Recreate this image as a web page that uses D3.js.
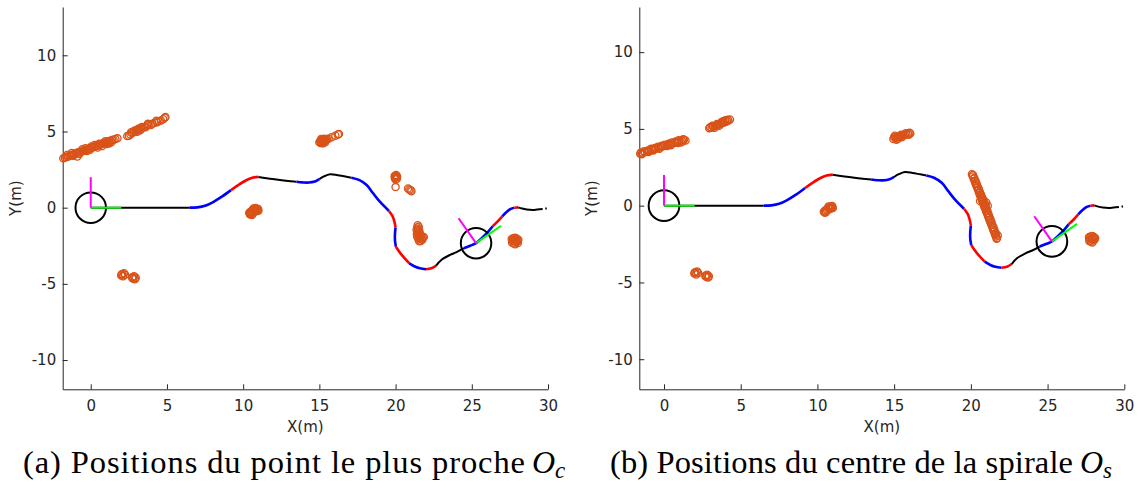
<!DOCTYPE html>
<html><head><meta charset="utf-8">
<script src="https://cdn.jsdelivr.net/npm/d3@7"></script>
<style>
body{margin:0;background:#fff;}
svg{display:block;}
</style></head>
<body>
<svg id="chart" width="1145" height="489"></svg>
<script>
// ---------------- DATA ----------------
const xTicks = [0, 5, 10, 15, 20, 25, 30];
const yTicks = [-10, -5, 0, 5, 10];
const xLabel = "X(m)";
const yLabel = "Y(m)";
const captionA = {lead: "(a) Positions du point le plus proche", sym: "O", sub: "c"};
const captionB = {lead: "(b) Positions du centre de la spirale", sym: "O", sub: "s"};

// path of the vehicle (shared by both panels)
const trajX = [0,2,4,6.5, 7.0,7.5,8.0,8.6,9.2, 9.7,10.2,10.6,11.0, 12.3,13.5, 13.9,14.3,14.7,15.0,
  15.3,15.7,16.2,16.7,17.1, 17.6,18.1,18.5,18.97,19.55, 19.8,19.93,20.0, 19.96,19.96,20.02,
  20.4,20.9, 21.3,21.6,22.0, 22.35,22.66, 23.0,23.57,24.0,24.48, 24.9,25.28,25.7,26.08,26.37,
  26.7,27.0, 27.3,27.55,27.8, 28.05, 28.3,28.6,29.0,29.3,29.65, 29.82,29.92];
const trajY = [0,0,0,0, 0.02,0.12,0.35,0.72,1.15, 1.5,1.8,1.96,2.02, 1.84,1.7, 1.66,1.65,1.72,1.87,
  2.05,2.19,2.13,2.04,1.97, 1.82,1.49,0.98,0.39,-0.2, -0.55,-0.95,-1.3, -1.7,-2.15,-2.56,
  -3.1,-3.65, -3.88,-3.98,-4.04, -3.98,-3.8, -3.43,-3.1,-2.92,-2.66, -2.5,-2.33,-1.95,-1.57,-1.22,
  -0.9,-0.57, -0.27,-0.08,0.0, 0.02, -0.06,-0.12,-0.15,-0.12,-0.09, -0.06,-0.05];
// path pieces: first and last index into trajX/trajY, and kind of piece
const segStart = [0,3,8,12,14,18,23,28,31,34,36,39,41,45,50,52,55,56,62];
const segEnd   = [3,8,12,14,18,23,28,31,34,36,39,41,45,50,52,55,56,61,63];
const segKind  = ["k","b","r","k","b","k","b","r","b","r","b","r","k","b","r","b","r","k","k"];

// vehicle frames (position and heading in degrees), frame axis length, circle radius
const frameX = [0, 25.28];
const frameY = [0, -2.33];
const frameHeading = [0, 35];
const frameAxisLen = 2;
const frameRadius = 1;

// (a) closest points O_c
const closestPts = [
 [-1.8,3.24],[-1.7,3.28],[-1.6,3.33],[-1.5,3.34],[-1.4,3.41],[-1.3,3.42],[-1.2,3.48],[-1.1,3.5],
 [-1.0,3.56],[-0.88,3.36],[-0.9,3.6],[-0.8,3.63],[-0.7,3.64],[-0.6,3.7],[-0.5,3.72],[-0.4,3.78],
 [-0.3,3.79],[-0.2,3.85],[-0.1,3.86],[0.0,3.92],[0.1,3.94],[0.2,4.0],[0.3,4.01],[0.4,4.07],
 [0.5,4.08],[0.6,4.15],[0.7,4.16],[0.8,4.22],[0.9,4.23],[1.0,4.3],[1.1,4.31],[1.2,4.37],
 [1.3,4.38],[1.4,4.44],[1.5,4.45],[1.62,4.5],[1.75,4.55],[-1.25,3.58],[-0.55,3.84],[0.25,4.12],
 [0.95,4.36],[-0.05,3.8],[0.75,4.05],[-1.55,3.45],[1.2,4.22],[0.45,3.95],[-0.25,3.72],
 [-1.15,3.4],[-0.75,3.52],[-0.35,3.9],[0.05,4.02],[0.55,4.2],[1.05,4.18],[1.35,4.3],
 [2.4,4.7],[2.5,4.72],[2.6,4.8],[2.7,4.9],[2.8,4.95],[2.85,5.05],[2.95,5.0],[3.0,5.1],[3.1,5.12],
 [3.2,5.15],[3.3,5.2],[3.4,5.25],[3.5,5.3],[3.6,5.28],[3.7,5.4],[3.8,5.45],[3.95,5.42],[4.05,5.5],
 [4.2,5.58],[4.35,5.6],[4.45,5.68],[4.6,5.72],[4.75,5.8],[4.85,5.9],[4.9,5.95],[3.75,5.5],[4.3,5.7],
 [2.65,4.95],[3.05,4.98],[3.35,5.3],[3.15,5.2],[3.25,5.08],
 [10.4,-0.35],[10.45,-0.45],[10.5,-0.3],[10.55,-0.22],[10.6,-0.32],[10.65,-0.12],[10.7,-0.18],
 [10.75,-0.06],[10.8,-0.12],[10.85,-0.18],[10.9,-0.1],[10.95,-0.15],[11.0,-0.2],[10.5,-0.42],
 [10.62,-0.4],[10.72,-0.26],[10.45,-0.28],[10.58,-0.48],[10.68,-0.06],[10.82,-0.02],[10.98,-0.08],
 [10.88,-0.24],[10.55,-0.36],[10.78,-0.16],
 [15.0,4.3],[15.05,4.38],[15.1,4.32],[15.15,4.45],[15.2,4.3],[15.25,4.4],[15.3,4.35],[15.35,4.45],
 [15.4,4.4],[15.45,4.48],[15.5,4.5],[15.6,4.52],[15.8,4.62],[16.05,4.72],[16.28,4.84],[16.22,4.8],
 [15.08,4.25],[15.22,4.22],[15.38,4.3],[15.12,4.5],[15.3,4.52],
 [20.0,2.1],[20.05,2.02],[19.95,1.95],[20.08,1.9],[20.0,1.85],[20.04,2.15],[19.98,2.0],[20.0,1.35],
 [20.82,1.26],[20.9,1.2],[20.98,1.14],[21.04,1.08],[20.1,2.05],[19.94,2.08],
 [21.45,-1.15],[21.42,-1.3],[21.48,-1.42],[21.45,-1.55],[21.5,-1.68],[21.55,-1.8],[21.68,-1.85],
 [21.78,-1.95],[21.62,-2.0],[21.5,-2.08],[21.65,-2.18],[21.75,-2.1],[21.85,-1.92],[21.42,-1.9],[21.52,-1.25],
 [21.38,-1.45],[21.55,-1.5],[21.4,-1.75],[21.6,-1.7],[21.7,-2.0],[21.55,-2.2],[21.48,-1.95],
 [27.62,-2.05],[27.72,-2.0],[27.85,-1.98],[27.95,-2.04],[28.05,-2.1],[27.7,-2.2],[27.82,-2.15],
 [27.92,-2.25],[27.75,-2.35],[27.65,-2.3],[28.0,-2.2],[27.85,-2.4],[27.68,-2.12],[27.95,-2.15],
 [28.02,-2.32],[27.78,-2.08],
 [2.0,-4.45],[2.08,-4.35],[2.18,-4.3],[2.25,-4.4],[2.12,-4.5],[2.02,-4.38],
 [2.75,-4.55],[2.85,-4.5],[2.95,-4.6],[2.9,-4.7],[2.8,-4.66],[2.72,-4.62]
];

// (b) spiral centres O_s
const centerPts = [
 [-1.55,3.38],[-1.4,3.43],[-1.25,3.48],[-1.1,3.53],[-0.95,3.58],[-0.8,3.63],[-0.65,3.68],[-0.5,3.72],
 [-0.35,3.77],[-0.2,3.82],[-0.05,3.87],[0.1,3.91],[0.25,3.96],[0.4,4.0],[0.55,4.05],[0.7,4.1],
 [0.85,4.15],[1.0,4.2],[1.15,4.24],[1.3,4.3],
 [-1.5,3.46],[-1.3,3.54],[-1.05,3.6],[-0.85,3.7],[-0.6,3.76],[-0.4,3.84],[-0.15,3.9],[0.05,3.97],
 [0.3,4.04],[0.5,4.12],[0.75,4.18],[0.95,4.26],[1.2,4.18],[-0.7,3.6],[0.2,3.88],[0.9,4.08],
 [-1.45,3.35],[-1.0,3.5],[-0.3,3.7],[0.45,3.94],[1.1,4.12],[1.25,4.32],[1.4,4.25],
 [3.0,5.1],[3.1,5.08],[3.2,5.15],[3.3,5.18],[3.4,5.22],[3.5,5.25],[3.6,5.3],[3.7,5.35],[3.8,5.38],
 [3.9,5.42],[4.0,5.45],[4.1,5.5],[4.2,5.55],[4.3,5.62],[3.15,5.2],[3.45,5.32],[3.85,5.5],[4.15,5.6],[2.95,5.05],
 [3.3,5.08],[3.6,5.2],[4.0,5.56],[3.75,5.45],
 [10.42,-0.4],[10.5,-0.32],[10.55,-0.42],[10.6,-0.25],[10.7,-0.18],[10.78,-0.08],[10.85,-0.12],
 [10.9,-0.05],[10.95,-0.12],[11.0,-0.15],[10.65,-0.32],[10.8,-0.2],[10.48,-0.46],[10.88,-0.18],
 [10.72,-0.05],[10.96,-0.02],
 [14.95,4.35],[15.0,4.45],[15.1,4.4],[15.2,4.45],[15.3,4.5],[15.4,4.5],[15.5,4.55],[15.6,4.6],
 [15.7,4.6],[15.8,4.65],[15.9,4.7],[16.0,4.75],[16.05,4.7],[15.05,4.55],[15.25,4.36],[15.5,4.45],
 [15.15,4.3],[15.45,4.62],[15.75,4.72],[15.95,4.62],
 [20.07,2.05],[20.13,1.9],[20.19,1.75],[20.25,1.6],[20.3,1.45],[20.36,1.3],[20.42,1.15],[20.48,1.0],
 [20.53,0.85],[20.59,0.7],[20.65,0.55],[20.71,0.4],[20.76,0.25],[20.82,0.1],[20.88,-0.05],[20.94,-0.2],
 [20.99,-0.35],[21.05,-0.5],[21.11,-0.65],[21.17,-0.8],[21.22,-0.95],[21.28,-1.1],[21.34,-1.25],
 [21.4,-1.4],[21.45,-1.55],[21.51,-1.7],[21.57,-1.85],[21.63,-2.0],[21.68,-2.15],
 [20.14,2.0],[20.22,1.8],[20.3,1.62],[20.38,1.42],[20.44,1.25],[20.52,1.08],[20.58,0.9],[20.66,0.72],
 [20.72,0.56],[20.8,0.38],[20.86,0.2],[20.94,0.02],[21.0,-0.16],[21.08,-0.34],[21.14,-0.52],
 [21.2,-0.7],[21.28,-0.88],[21.34,-1.06],[21.4,-1.24],[21.48,-1.42],[21.54,-1.6],[21.62,-1.78],
 [20.6,0.3],[20.75,0.5],[21.0,0.2],[21.1,0.0],[20.9,-0.1],[20.8,0.35],[21.6,-1.9],[21.75,-1.95],[21.7,-2.1],
 [27.7,-2.05],[27.8,-2.0],[27.92,-1.98],[28.02,-2.04],[28.1,-2.1],[27.78,-2.2],[27.9,-2.15],
 [28.0,-2.25],[27.82,-2.35],[27.72,-2.3],[28.06,-2.2],[27.92,-2.4],[27.75,-2.12],[28.0,-2.12],
 [1.98,-4.42],[2.06,-4.33],[2.16,-4.28],[2.22,-4.38],[2.1,-4.48],[2.0,-4.36],
 [2.72,-4.54],[2.82,-4.5],[2.92,-4.6],[2.88,-4.68],[2.78,-4.64],[2.7,-4.6]
];

// ---------------- LAYOUT & STYLE ----------------
const panels = [
  {pts: closestPts, cap: captionA, xDom: [-1.84, 30], yDom: [-11.92, 13.17],
   xR: [62.7, 548], yR: [389.3, 7], capX: 23, capLen: 502, symX: 532, yLabX: 21},
  {pts: centerPts, cap: captionB, xDom: [-1.61, 30], yDom: [-11.96, 12.94],
   xR: [639.3, 1124.3], yR: [389.3, 7], capX: 610, capLen: 463, symX: 1080, yLabX: 597}
];
const kindColor = {k: "#000000", b: "#0000ff", r: "#ff0000"};
const kindWidth = {k: 2, b: 2.6, r: 2.6};
const markerColor = "#D95319";
const axisColor = "#262626";
const tickFont = "'DejaVu Sans', sans-serif";
const capFont = "'Liberation Serif', 'Times New Roman', serif";

const svg = d3.select("#chart");
svg.append("rect").attr("width", 1145).attr("height", 489).attr("fill", "#fff");

panels.forEach(p => {
  const x = d3.scaleLinear().domain(p.xDom).range(p.xR);
  const y = d3.scaleLinear().domain(p.yDom).range(p.yR);
  const g = svg.append("g");

  // axes
  const gx = g.append("g").attr("transform", `translate(0,${p.yR[0]})`)
    .call(d3.axisBottom(x).tickValues(xTicks).tickFormat(d => String(d))
      .tickSize(-5).tickSizeOuter(0).tickPadding(11));
  const gy = g.append("g").attr("transform", `translate(${p.xR[0]},0)`)
    .call(d3.axisLeft(y).tickValues(yTicks).tickFormat(d => String(d))
      .tickSize(-5).tickSizeOuter(0).tickPadding(6.5));
  [gx, gy].forEach(a => {
    a.select(".domain").attr("stroke", axisColor).attr("stroke-width", 1);
    a.selectAll(".tick line").attr("stroke", axisColor).attr("stroke-width", 1);
    a.selectAll(".tick text").attr("fill", axisColor)
      .style("font-family", tickFont).style("font-size", "15px");
  });

  g.append("text").text(xLabel)
    .attr("x", (p.xR[0] + p.xR[1]) / 2).attr("y", 432)
    .attr("text-anchor", "middle").attr("fill", axisColor)
    .style("font-family", tickFont).style("font-size", "15px");
  g.append("text").text(yLabel)
    .attr("transform", `translate(${p.yLabX},${(p.yR[0] + p.yR[1]) / 2}) rotate(-90)`)
    .attr("text-anchor", "middle").attr("fill", axisColor)
    .style("font-family", tickFont).style("font-size", "15px");

  // scatter (open circles)
  g.append("g").selectAll("circle").data(p.pts).join("circle")
    .attr("cx", d => x(d[0])).attr("cy", d => y(d[1])).attr("r", 3.6)
    .attr("fill", "none").attr("stroke", markerColor).attr("stroke-width", 1.3);

  // trajectory
  const line = d3.line().x(i => x(trajX[i])).y(i => y(trajY[i])).curve(d3.curveCatmullRom.alpha(0.5));
  segStart.forEach((s, k) => {
    const idx = d3.range(s, segEnd[k] + 1);
    g.append("path").attr("d", line(idx)).attr("fill", "none")
      .attr("stroke", kindColor[segKind[k]]).attr("stroke-width", kindWidth[segKind[k]])
      .attr("stroke-linecap", "butt");
  });

  // vehicle frames
  const rpx = x(frameRadius) - x(0);
  frameX.forEach((fx, k) => {
    const th = frameHeading[k] * Math.PI / 180;
    g.append("circle").attr("cx", x(fx)).attr("cy", y(frameY[k])).attr("r", rpx)
      .attr("fill", "none").attr("stroke", "#000").attr("stroke-width", 2);
    g.append("line").attr("x1", x(fx)).attr("y1", y(frameY[k]))
      .attr("x2", x(fx + frameAxisLen * Math.cos(th))).attr("y2", y(frameY[k] + frameAxisLen * Math.sin(th)))
      .attr("stroke", "#00ff00").attr("stroke-width", 2);
    g.append("line").attr("x1", x(fx)).attr("y1", y(frameY[k]))
      .attr("x2", x(fx - frameAxisLen * Math.sin(th))).attr("y2", y(frameY[k] + frameAxisLen * Math.cos(th)))
      .attr("stroke", "#ff00ff").attr("stroke-width", 2);
  });

  // caption
  svg.append("text").attr("x", p.capX).attr("y", 473)
    .attr("textLength", p.capLen).attr("lengthAdjust", "spacing")
    .style("font-family", capFont).style("font-size", "32.5px").attr("fill", "#000")
    .text(p.cap.lead);
  const t = svg.append("text").attr("x", p.symX).attr("y", 473)
    .style("font-family", capFont).style("font-size", "32px").attr("fill", "#000");
  t.append("tspan").text(p.cap.sym).style("font-style", "italic");
  t.append("tspan").text(p.cap.sub).style("font-style", "italic")
    .style("font-size", "23px").attr("dy", 5);
});
</script>
</body></html>
